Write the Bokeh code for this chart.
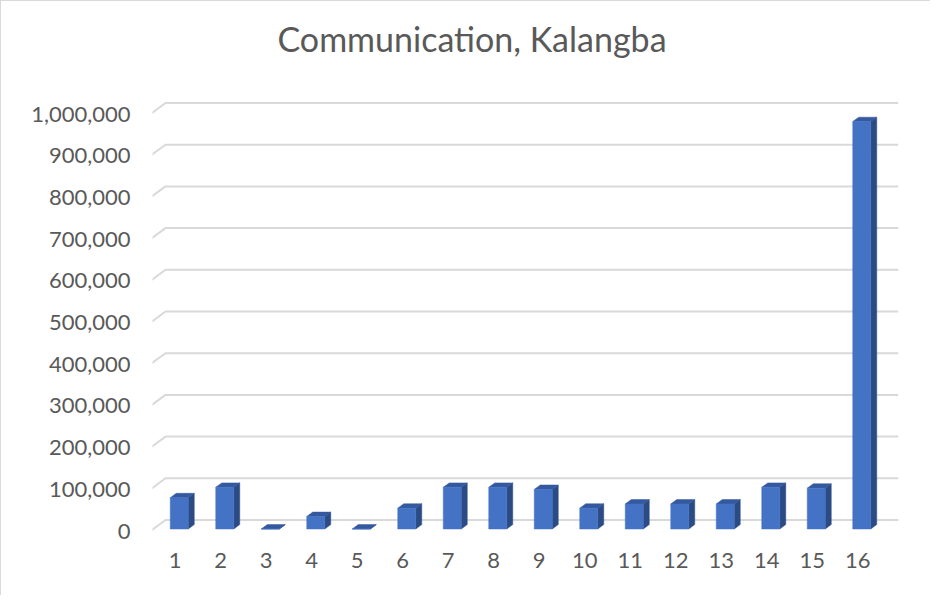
from bokeh.plotting import figure
from bokeh.models import Range1d, FixedTicker, NumeralTickFormatter, Title
from bokeh.embed import file_html
from bokeh.resources import INLINE

# ---- data ----
categories = list(range(1, 17))
values = [75000, 100000, 0, 30000, 0, 50000, 100000, 100000, 95000, 50000,
          60000, 60000, 60000, 100000, 98000, 977000]
y_ticks = [0, 100000, 200000, 300000, 400000, 500000, 600000, 700000, 800000, 900000, 1000000]
title_text = "Communication, Kalangba"

# ---- geometry (pixel scales) ----
PXX = 45.5            # px per category
PXY = 41.7 / 100000   # px per value unit
FRAME_W, FRAME_H = 746, 445
x0 = 0.5
x1 = x0 + FRAME_W / PXX
y_zero_px = 437.5     # px from frame top to y=0 (front)
y1 = y_zero_px / PXY
y0 = -(FRAME_H - y_zero_px) / PXY

def dx(px):
    return px / PXX

def dy(px):
    return px / PXY

p = figure(width=930, height=595, output_backend="svg", toolbar_location=None,
           x_range=Range1d(x0, x1), y_range=Range1d(y0, y1),
           min_border_left=151, min_border_right=33, min_border_top=92,
           min_border_bottom=58)
p.outline_line_color = None
p.background_fill_color = "white"
p.border_fill_color = "white"
p.xgrid.visible = False
p.ygrid.visible = False
p.styles = {"border-top": "1px solid #D9D9D9", "border-left": "1px solid #D9D9D9"}

# ---- 3D gridlines (floor depth: 15px right, 11px up) ----
DEPTH_X, DEPTH_Y = 15, 11
gx, gy = [], []
for t in y_ticks:
    gx.append([x0 - dx(2), x0 - dx(2) + dx(DEPTH_X), x1])
    gy.append([t, t + dy(DEPTH_Y), t + dy(DEPTH_Y)])
p.multi_line(gx, gy, line_color="#D9D9D9", line_width=2)

# ---- 3D bars ----
HALF_W = 9    # px
F_DX, F_DY = 4, 2     # front face offset from floor front
B_DX, B_DY = 10, 6.4  # back face offset
front_l, front_r, front_b, front_t = [], [], [], []
side_xs, side_ys, top_xs, top_ys = [], [], [], []
for c, v in zip(categories, values):
    l = c + dx(F_DX - HALF_W)
    r = c + dx(F_DX + HALF_W)
    b = dy(F_DY)
    t = v + dy(F_DY)
    ddx = dx(B_DX - F_DX)
    ddy = dy(B_DY - F_DY)
    front_l.append(l); front_r.append(r); front_b.append(b); front_t.append(t)
    side_xs.append([r, r + ddx, r + ddx, r])
    side_ys.append([b, b + ddy, t + ddy, t])
    top_xs.append([l, r, r + ddx, l + ddx])
    top_ys.append([t, t, t + ddy, t + ddy])

p.patches(side_xs, side_ys, fill_color="#2B4B85", line_color="#2B4B85", line_width=0.5)
p.patches(top_xs, top_ys, fill_color="#34599F", line_color="#34599F", line_width=0.5)
p.quad(left=front_l, right=front_r, bottom=front_b, top=front_t,
       fill_color="#4472C4", line_color="#4472C4", line_width=0.5)

# ---- axes ----
p.yaxis.ticker = FixedTicker(ticks=y_ticks)
p.yaxis.formatter = NumeralTickFormatter(format="0,0")
p.xaxis.ticker = FixedTicker(ticks=categories)
for ax in (p.xaxis, p.yaxis):
    ax.axis_line_color = None
    ax.major_tick_line_color = None
    ax.minor_tick_line_color = None
    ax.major_tick_out = 0
    ax.major_tick_in = 0
    ax.major_label_text_font = "Lato"
    ax.major_label_text_font_size = "22px"
    ax.major_label_text_color = "#595959"
p.yaxis.major_label_standoff = 22
p.xaxis.major_label_standoff = 14

# ---- title (spacer first, then real title further out) ----
p.add_layout(Title(text=" ", text_font_size="2px", standoff=24), "above")
p.add_layout(Title(text=title_text, align="left", offset=125, standoff=14,
                   text_font="Lato", text_font_size="34px",
                   text_font_style="normal", text_color="#595959"), "above")

open("out.html", "w").write(file_html(p, INLINE))
